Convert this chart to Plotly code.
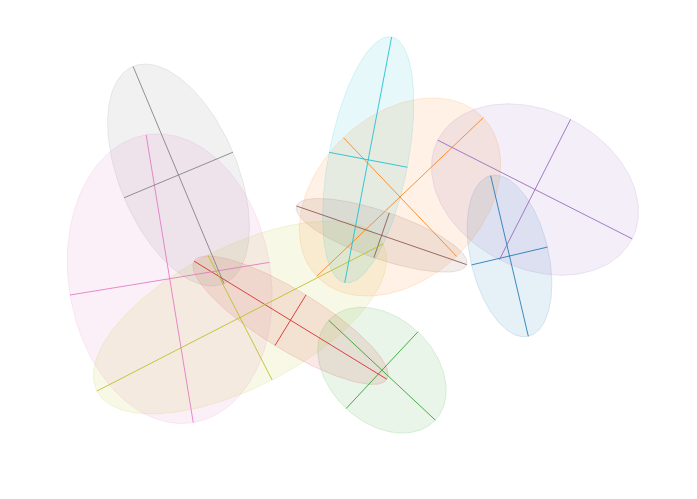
import numpy as np
import plotly.graph_objects as go

# Ellipse parameters (chart coordinates, y grows downward)
names = ["blue", "orange", "green", "red", "purple", "brown", "pink", "gray", "olive", "cyan"]
colors = ["#1f77b4", "#ff7f0e", "#2ca02c", "#d62728", "#9467bd",
          "#8c564b", "#e377c2", "#7f7f7f", "#bcbd22", "#17becf"]
center_x = [509.5, 400.0, 382.0, 290.5, 535.0, 381.6, 169.7, 178.5, 240.0, 368.2]
center_y = [256.0, 197.0, 370.2, 320.2, 189.5, 235.3, 278.7, 175.0, 317.5, 159.8]
semi_major = [82.5, 115.0, 73.0, 113.0, 109.0, 90.0, 145.8, 117.7, 160.8, 125.0]
semi_minor = [39.0, 82.0, 52.5, 29.7, 78.6, 23.7, 101.0, 59.0, 70.2, 39.8]
angle_deg = [76.8, -43.6, 43.1, 31.5, 26.9, 19.0, 80.7, 67.3, -27.2, 100.8]


def hex_rgba(h, a):
    h = h.lstrip("#")
    r, g, b = int(h[0:2], 16), int(h[2:4], 16), int(h[4:6], 16)
    return f"rgba({r},{g},{b},{a})"


fig = go.Figure()
t = np.linspace(0, 2 * np.pi, 181)

for i in range(len(names)):
    th = np.deg2rad(angle_deg[i])
    a, b = semi_major[i], semi_minor[i]
    cx, cy = center_x[i], center_y[i]
    ex = cx + a * np.cos(t) * np.cos(th) - b * np.sin(t) * np.sin(th)
    ey = cy + a * np.cos(t) * np.sin(th) + b * np.sin(t) * np.cos(th)
    fig.add_trace(go.Scatter(
        x=ex, y=ey, mode="lines", fill="toself",
        fillcolor=hex_rgba(colors[i], 0.11),
        line=dict(color=hex_rgba(colors[i], 0.15), width=1),
        hoverinfo="skip", showlegend=False, name=names[i]))

for i in range(len(names)):
    th = np.deg2rad(angle_deg[i])
    a, b = semi_major[i], semi_minor[i]
    cx, cy = center_x[i], center_y[i]
    ux, uy = np.cos(th), np.sin(th)
    vx, vy = -np.sin(th), np.cos(th)
    xs = [cx - a * ux, cx + a * ux, None, cx - b * vx, cx + b * vx]
    ys = [cy - a * uy, cy + a * uy, None, cy - b * vy, cy + b * vy]
    fig.add_trace(go.Scatter(
        x=xs, y=ys, mode="lines",
        line=dict(color=hex_rgba(colors[i], 0.85), width=1),
        hoverinfo="skip", showlegend=False, name=names[i] + " axes"))

fig.update_layout(
    width=697, height=499,
    margin=dict(l=0, r=0, t=0, b=0),
    paper_bgcolor="white", plot_bgcolor="white",
    xaxis=dict(range=[8, 705], visible=False, fixedrange=True),
    yaxis=dict(range=[507, 8], visible=False, fixedrange=True),
)

fig.write_html("out.html")
